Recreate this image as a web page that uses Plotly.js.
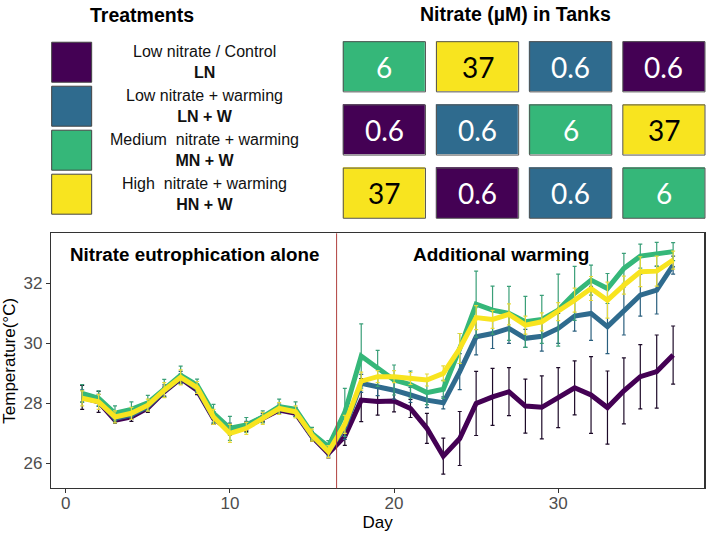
<!DOCTYPE html>
<html>
<head>
<meta charset="utf-8">
<script src="https://cdn.plot.ly/plotly-3.0.1.min.js"></script>
<style>
  html, body { margin: 0; padding: 0; background: #fff; }
  #chart { width: 711px; height: 537px; }
</style>
</head>
<body>
<div id="chart"></div>
<script>
// --- data ---
const days = [1,2,3,4,5,6,7,8,9,10,11,12,13,14,15,16,17,18,19,20,21,22,23,24,25,26,27,28,29,30,31,32,33,34,35,36,37];

const tempLN  = [28.2,28.05,27.44,27.55,27.85,28.39,28.83,28.44,27.5,27.11,27.22,27.5,27.78,27.67,26.89,26.33,26.9,28.11,28.06,28.08,27.83,27.17,26.24,26.83,28.0,28.22,28.39,27.91,27.87,28.19,28.52,28.28,27.86,28.42,28.89,29.06,29.61];
const tempLNW = [28.25,28.1,27.5,27.62,27.9,28.42,28.87,28.5,27.53,27.14,27.25,27.52,27.83,27.72,26.92,26.4,27.2,28.67,28.56,28.44,28.28,28.11,28.02,29.06,30.22,30.33,30.5,30.17,30.24,30.5,30.91,31.0,30.56,31.08,31.61,31.78,32.61];
const tempMNW = [28.33,28.17,27.67,27.8,28.02,28.5,28.94,28.61,27.67,27.17,27.28,27.55,27.89,27.8,27.0,26.56,27.7,29.58,29.17,28.78,28.63,28.36,28.47,29.83,31.31,31.11,31.0,30.72,30.8,31.11,31.67,32.11,31.83,32.5,32.91,32.97,33.06];
const tempHNW = [28.17,28.05,27.55,27.67,27.94,28.44,28.87,28.53,27.55,27.0,27.17,27.5,27.83,27.72,26.94,26.39,27.3,28.74,28.89,28.89,28.83,28.78,29.0,29.83,30.86,30.8,30.97,30.61,30.72,31.06,31.44,31.83,31.44,31.94,32.39,32.41,32.78];

const errLN  = [0.4,0.35,0.1,0.15,0.15,0.15,0.15,0.15,0.2,0.15,0.15,0.1,0.1,0.1,0.15,0.15,0.3,0.72,0.45,0.36,0.3,0.5,0.6,0.9,1.07,0.95,0.8,0.9,1.05,1.0,0.9,1.28,1.22,1.1,1.07,1.22,0.97];
const errLNW = [0.2,0.2,0.15,0.15,0.15,0.2,0.2,0.15,0.2,0.2,0.15,0.15,0.15,0.15,0.15,0.15,0.4,0.3,0.3,0.3,0.25,0.25,0.2,0.6,0.6,0.5,0.5,0.3,0.5,0.5,0.5,0.9,0.9,0.8,0.7,0.8,0.3];
const errMNW = [0.3,0.25,0.25,0.25,0.25,0.3,0.3,0.2,0.3,0.4,0.25,0.2,0.25,0.25,0.2,0.2,0.8,1.07,0.6,0.5,0.45,0.4,0.3,0.5,1.1,0.8,0.9,0.85,0.8,1.2,0.9,0.5,0.5,0.5,0.4,0.4,0.3];
const errHNW = [0.25,0.25,0.2,0.2,0.2,0.25,0.25,0.2,0.25,0.3,0.2,0.2,0.2,0.2,0.2,0.2,0.3,0.3,0.2,0.2,0.2,0.2,0.25,0.5,0.4,0.3,0.35,0.3,0.3,0.3,0.4,0.4,0.6,0.3,0.5,0.5,0.3];

const treatmentNames = ['Low nitrate / Control', 'Low nitrate + warming', 'Medium  nitrate + warming', 'High  nitrate + warming'];
const treatmentCodes = ['LN', 'LN + W', 'MN + W', 'HN + W'];
const nitrateLevels  = ['0.6', '0.6', '6', '37'];

// which treatment sits in each tank (3 rows x 4 columns)
const tankLayout = [
    [2, 3, 1, 0],
    [0, 1, 2, 3],
    [3, 0, 1, 2]
];

const warmingStartDay = 16.5;
const xTicks = [0, 10, 20, 30];
const yTicks = [26, 28, 30, 32];

// --- styling ---
const colors    = ['#440154', '#2f6b8e', '#35b779', '#f8e41f'];
const errColors = ['#1d0a28', '#2a5f7e', '#3a9f78', '#e6da3a'];
const series = [tempLN, tempLNW, tempMNW, tempHNW];
const errors = [errLN, errLNW, errMNW, errHNW];
const font = 'Liberation Sans, Arial, sans-serif';

let traces = [];

// main temperature lines
series.forEach((ys, i) => {
    traces.push({
        x: days,
        y: ys,
        type: 'scatter',
        mode: 'lines',
        line: { color: colors[i], width: 5 },
        error_y: { type: 'data', array: errors[i], visible: true, color: errColors[i], thickness: 1.2, width: 2 },
        hoverinfo: 'skip'
    });
});

// tank grid as a heatmap on its own axes
traces.push({
    type: 'heatmap',
    z: tankLayout.map(row => row.slice()),
    x: [0, 1, 2, 3],
    y: [0, 1, 2],
    xaxis: 'x2',
    yaxis: 'y2',
    zmin: -0.5,
    zmax: 3.5,
    colorscale: [
        [0, colors[0]], [0.25, colors[0]],
        [0.25, colors[1]], [0.5, colors[1]],
        [0.5, colors[2]], [0.75, colors[2]],
        [0.75, colors[3]], [1, colors[3]]
    ],
    showscale: false,
    xgap: 11,
    ygap: 13,
    hoverinfo: 'skip'
});

// treatment key squares
const legendBoxX = 0.21;
const legendTextX = 0.6;
traces.push({
    x: treatmentNames.map(() => legendBoxX),
    y: treatmentNames.map((_, i) => i),
    xaxis: 'x3',
    yaxis: 'y3',
    type: 'scatter',
    mode: 'markers',
    marker: { symbol: 'square', size: 40, color: colors, line: { color: '#444', width: 1 } },
    hoverinfo: 'skip'
});

function paperText(text, x, y, size) {
    return { text: text, xref: 'paper', yref: 'paper', x: x, y: y, xanchor: 'center', yanchor: 'middle',
             showarrow: false, font: { family: font, size: size, color: '#000' } };
}

let annotations = [
    paperText('<b>Treatments</b>', 0.2, 0.972, 19.5),
    paperText('<b>Nitrate (µM) in Tanks</b>', 0.7257, 0.973, 19.5),
    paperText('<b>Nitrate eutrophication alone</b>', 0.2736, 0.527, 18.8),
    paperText('<b>Additional warming</b>', 0.704, 0.527, 19)
];

treatmentNames.forEach((name, i) => {
    annotations.push({
        text: name + '<br><b>' + treatmentCodes[i] + '</b>',
        xref: 'x3', yref: 'y3', x: legendTextX, y: i,
        xanchor: 'center', yanchor: 'middle',
        showarrow: false, align: 'center',
        font: { family: font, size: 16, color: '#111' }
    });
});

let shapes = [
    { type: 'line', xref: 'x', yref: 'paper', x0: warmingStartDay, x1: warmingStartDay, y0: 0.0907, y1: 0.5655,
      line: { color: '#b0413e', width: 1 } }
];

// tank labels and outlines
const halfGapX = 0.059, halfGapY = 0.103;
tankLayout.forEach((row, r) => {
    row.forEach((t, c) => {
        annotations.push({
            text: nitrateLevels[t],
            xref: 'x2', yref: 'y2', x: c, y: r, xanchor: 'center', yanchor: 'middle', showarrow: false,
            font: { family: 'Lato, Open Sans, sans-serif', size: 28, color: t === 3 ? '#000' : '#fff' }
        });
        shapes.push({
            type: 'rect', xref: 'x2', yref: 'y2',
            x0: c - 0.5 + halfGapX, x1: c + 0.5 - halfGapX,
            y0: r - 0.5 + halfGapY, y1: r + 0.5 - halfGapY,
            line: { color: '#555', width: 1 }, fillcolor: 'rgba(0,0,0,0)'
        });
    });
});

const hidden = { visible: false, showgrid: false, zeroline: false, fixedrange: true };

let layout = {
    width: 711,
    height: 537,
    margin: { l: 0, r: 0, t: 0, b: 0 },
    paper_bgcolor: '#fff',
    plot_bgcolor: '#fff',
    showlegend: false,
    xaxis: {
        domain: [0.0717, 0.9906],
        range: [-0.9, 38.9],
        tickvals: xTicks,
        ticks: 'outside', ticklen: 4, tickcolor: '#333',
        ticklabelstandoff: -5,
        showgrid: false, zeroline: false,
        showline: true, mirror: true, linecolor: '#333', linewidth: 1.2,
        tickfont: { family: font, size: 17, color: '#4d4d4d' },
        title: { text: 'Day', font: { family: font, size: 17, color: '#000' }, standoff: 2 },
        automargin: false
    },
    yaxis: {
        domain: [0.0907, 0.5655],
        range: [25.17, 33.67],
        tickvals: yTicks,
        ticks: 'outside', ticklen: 4, tickcolor: '#333',
        showgrid: false, zeroline: false,
        showline: true, mirror: true, linecolor: '#333', linewidth: 1.2,
        tickfont: { family: font, size: 17, color: '#4d4d4d' },
        title: { text: 'Temperature(°C)', font: { family: font, size: 17, color: '#000' }, standoff: 4 },
        automargin: false
    },
    xaxis2: Object.assign({ domain: [0.4751, 0.9993], range: [-0.5, 3.5], anchor: 'y2' }, hidden),
    yaxis2: Object.assign({ domain: [0.5814, 0.9345], range: [2.5, -0.5], anchor: 'x2' }, hidden),
    xaxis3: Object.assign({ domain: [0, 0.48], range: [0, 1], anchor: 'y3' }, hidden),
    yaxis3: Object.assign({ domain: [0.5974, 0.9251], range: [3.5, -0.5], anchor: 'x3' }, hidden),
    annotations: annotations,
    shapes: shapes
};

Plotly.newPlot('chart', traces, layout, { staticPlot: true });
</script>
</body>
</html>
